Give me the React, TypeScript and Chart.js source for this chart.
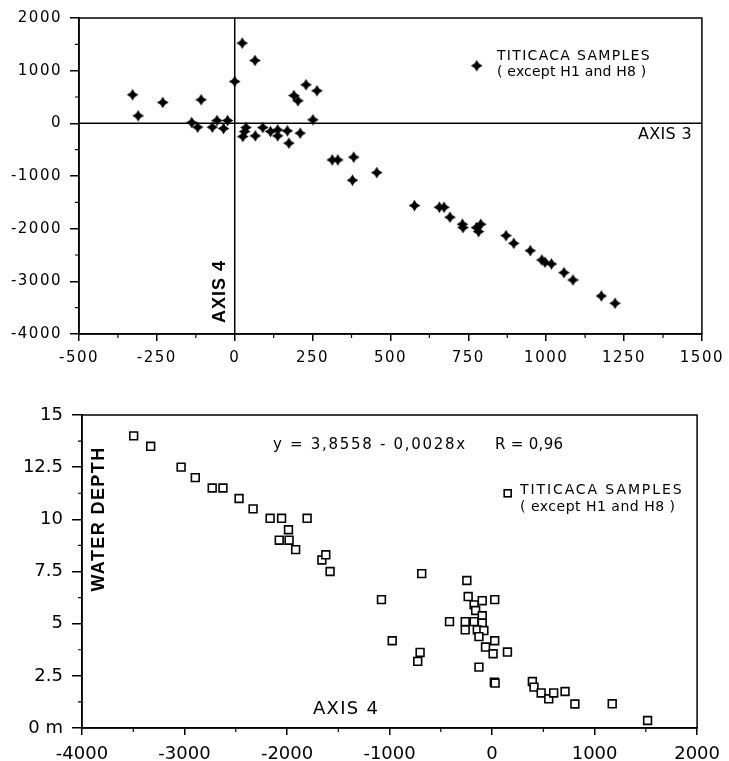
import React, { useEffect, useRef } from 'react';
import { Chart, registerables } from 'chart.js';
Chart.register(...registerables);

// ---------- Top chart: AXIS 3 (x) vs AXIS 4 (y) ----------
const axis3Scores = [-328, -310, -231, -138, -119, -108, -72, -57, -36, -23, 0, 24, 26, 32, 36, 65, 66, 90, 115, 138, 138, 169, 174, 190, 203, 210, 229, 251, 264, 313, 331, 382, 378, 456, 577, 657, 672, 691, 731, 733, 776, 783, 790, 871, 896, 949, 986, 996, 1017, 1057, 1086, 1177, 1221];
const axis4Scores = [542, 143, 396, 15, -72, 447, -72, 53, -99, 53, 795, 1524, -251, -156, -80, 1194, -238, -80, -156, -124, -238, -143, -376, 528, 428, -186, 732, 67, 618, -694, -694, -642, -1080, -935, -1562, -1593, -1593, -1783, -1916, -1980, -1980, -2056, -1916, -2132, -2278, -2417, -2594, -2638, -2670, -2835, -2974, -3278, -3417];
const topXTicks = [-500, -250, 0, 250, 500, 750, 1000, 1250, 1500];
const topXMinor = [-375, -125, 125, 375, 625, 875, 1125, 1375];
const topYTicks = [-4000, -3000, -2000, -1000, 0, 1000, 2000];
const topYMinor = [-3500, -2500, -1500, -500, 500, 1500];

// ---------- Bottom chart: AXIS 4 (x) vs WATER DEPTH (y) ----------
const depthAxis4 = [-3496, -3330, -3033, -2895, -2730, -2625, -2468, -2331, -2165, -2053, -1804, -1986, -2076, -1980, -1916, -1660, -1622, -1580, -686, -1079, -246, -233, -96, 26, -175, -160, -415, -262, -175, -96, -96, -262, -144, -80, -128, 26, -974, -64, 10, 150, -702, -725, -128, 22, 30, 393, 409, 479, 553, 601, 712, 808, 1172, 1517];
const waterDepth = [14, 13.5, 12.5, 12, 11.5, 11.5, 11, 10.5, 10.05, 10.05, 10.05, 9.5, 9, 9, 8.55, 8.05, 8.3, 7.5, 7.4, 6.15, 7.07, 6.3, 6.1, 6.15, 5.9, 5.63, 5.1, 5.1, 5.1, 5.38, 5.03, 4.7, 4.7, 4.67, 4.38, 4.18, 4.18, 3.88, 3.56, 3.64, 3.62, 3.19, 2.92, 2.2, 2.15, 2.23, 1.96, 1.68, 1.4, 1.68, 1.75, 1.15, 1.16, 0.36];
const botXTicks = [-4000, -3000, -2000, -1000, 0, 1000, 2000];
const botXMinor = [-3500, -2500, -1500, -500, 500, 1500];
const botYTicks = [0, 2.5, 5, 7.5, 10, 12.5, 15];
const botYMinor = [1.25, 3.75, 6.25, 8.75, 11.25, 13.75];

const legendLine1 = 'TITICACA SAMPLES';
const legendLine2 = '( except H1 and H8 )';
const equationText = 'y = 3,8558 - 0,0028x';
const rText = 'R = 0,96';

function makeStar(): HTMLCanvasElement {
  const c = document.createElement('canvas');
  c.width = 13;
  c.height = 13;
  const g = c.getContext('2d')!;
  g.fillStyle = '#000';
  g.beginPath();
  const cx = 6.5, cy = 6.5, R = 5.8, r = 3.1;
  for (let i = 0; i < 8; i++) {
    const a = -Math.PI / 2 + (i * Math.PI) / 4;
    const rad = i % 2 === 0 ? R : r;
    g.lineTo(cx + rad * Math.cos(a), cy + rad * Math.sin(a));
  }
  g.closePath();
  g.fill();
  return c;
}

function txt(ctx: any, s: string, x: number, y: number, font: string, ls: number, align: CanvasTextAlign = 'left') {
  ctx.font = font;
  ctx.letterSpacing = ls + 'px';
  ctx.textAlign = align;
  ctx.textBaseline = 'middle';
  ctx.fillStyle = '#000';
  ctx.fillText(s, x, y);
}

function makeFramePlugin(opts: any) {
  return {
    id: 'frameDeco',
    beforeDraw(chart: any) {
      chart.ctx.letterSpacing = opts.tickSpacing + 'px';
    },
    beforeDatasetsDraw(chart: any) {
      const { ctx, chartArea: a, scales } = chart;
      if (opts.zeroLines) {
        ctx.save();
        ctx.strokeStyle = '#000';
        ctx.lineWidth = 1.5;
        const x0 = scales.x.getPixelForValue(0);
        const y0 = scales.y.getPixelForValue(0);
        ctx.beginPath();
        ctx.moveTo(x0, a.top);
        ctx.lineTo(x0, a.bottom);
        ctx.moveTo(a.left, y0);
        ctx.lineTo(a.right, y0);
        ctx.stroke();
        ctx.restore();
      }
    },
    afterDraw(chart: any) {
      const { ctx, chartArea: a, scales } = chart;
      ctx.save();
      ctx.strokeStyle = '#000';
      ctx.lineWidth = 1.5;
      ctx.strokeRect(a.left, a.top, a.right - a.left, a.bottom - a.top);
      ctx.lineWidth = 1.2;
      ctx.beginPath();
      for (const v of opts.xMinor) {
        const px = scales.x.getPixelForValue(v);
        ctx.moveTo(px, a.bottom);
        ctx.lineTo(px, a.bottom + 4);
      }
      for (const v of opts.yMinor) {
        const py = scales.y.getPixelForValue(v);
        ctx.moveTo(a.left - 4, py);
        ctx.lineTo(a.left, py);
      }
      ctx.stroke();
      opts.deco(ctx, a, scales);
      ctx.restore();
    },
  };
}

function topConfig(): any {
  const star = makeStar();
  return {
    type: 'scatter',
    data: {
      datasets: [
        {
          data: axis3Scores.map((x, i) => ({ x, y: axis4Scores[i] })),
          pointStyle: star,
          pointRadius: 6,
          showLine: false,
        },
      ],
    },
    options: {
      responsive: false,
      animation: false,
      layout: { padding: { left: 0, right: 21, top: 18, bottom: 0 } },
      plugins: { legend: { display: false }, tooltip: { enabled: false } },
      scales: {
        x: {
          type: 'linear',
          min: -500,
          max: 1500,
          afterBuildTicks: (s: any) => { s.ticks = topXTicks.map((v) => ({ value: v })); },
          afterFit: (s: any) => { s.height = 36; },
          grid: { drawOnChartArea: false, tickLength: 7, color: '#000', lineWidth: 1.5 },
          border: { color: '#000', width: 1.5 },
          ticks: { color: '#000', font: { family: 'DejaVu Sans', size: 15 }, padding: 8, maxRotation: 0, autoSkip: false, callback: (v: any) => String(v) },
        },
        y: {
          type: 'linear',
          min: -4000,
          max: 2000,
          afterBuildTicks: (s: any) => { s.ticks = topYTicks.map((v) => ({ value: v })); },
          afterFit: (s: any) => { s.width = 79; },
          grid: { drawOnChartArea: false, tickLength: 9, color: '#000', lineWidth: 1.5 },
          border: { color: '#000', width: 1.5 },
          ticks: { color: '#000', font: { family: 'DejaVu Sans', size: 15 }, padding: 8, autoSkip: false, callback: (v: any) => String(v) },
        },
      },
    },
    plugins: [
      makeFramePlugin({
        tickSpacing: 1.5,
        zeroLines: true,
        xMinor: topXMinor,
        yMinor: topYMinor,
        deco: (ctx: any, a: any, scales: any) => {
          ctx.drawImage(star, 476.7 - 6.5, 65.7 - 6.5);
          txt(ctx, legendLine1, 497, 56, '14px "DejaVu Sans"', 1.3);
          txt(ctx, legendLine2, 497, 72, '14px "DejaVu Sans"', 0.2);
          const y0 = scales.y.getPixelForValue(0);
          txt(ctx, 'AXIS 3', a.right - 10, y0 + 12, '16px "DejaVu Sans"', 0.3, 'right');
          const x0 = scales.x.getPixelForValue(0);
          ctx.save();
          ctx.translate(x0 - 14.5, a.bottom - 11);
          ctx.rotate(-Math.PI / 2);
          txt(ctx, 'AXIS 4', 0, 0, 'bold 18px "Liberation Sans"', 1);
          ctx.restore();
        },
      }),
    ],
  };
}

function bottomConfig(): any {
  return {
    type: 'scatter',
    data: {
      datasets: [
        {
          data: depthAxis4.map((x, i) => ({ x, y: waterDepth[i] })),
          pointStyle: 'rect',
          pointRadius: 5.5,
          borderColor: '#000',
          backgroundColor: '#fff',
          borderWidth: 1.6,
          showLine: false,
        },
      ],
    },
    options: {
      responsive: false,
      animation: false,
      layout: { padding: { left: 0, right: 20, top: 35, bottom: 0 } },
      plugins: { legend: { display: false }, tooltip: { enabled: false } },
      scales: {
        x: {
          type: 'linear',
          min: -4000,
          max: 2000,
          afterBuildTicks: (s: any) => { s.ticks = botXTicks.map((v) => ({ value: v })); },
          afterFit: (s: any) => { s.height = 33; },
          grid: { drawOnChartArea: false, tickLength: 7, color: '#000', lineWidth: 1.5 },
          border: { color: '#000', width: 1.5 },
          ticks: { color: '#000', font: { family: 'DejaVu Sans', size: 18 }, padding: 9, maxRotation: 0, autoSkip: false, callback: (v: any) => String(v) },
        },
        y: {
          type: 'linear',
          min: 0,
          max: 15,
          afterBuildTicks: (s: any) => { s.ticks = botYTicks.map((v) => ({ value: v })); },
          afterFit: (s: any) => { s.width = 82; },
          grid: { drawOnChartArea: false, tickLength: 10, color: '#000', lineWidth: 1.5 },
          border: { color: '#000', width: 1.5 },
          ticks: { color: '#000', font: { family: 'DejaVu Sans', size: 18 }, padding: 9, autoSkip: false, callback: (v: any) => (v === 0 ? '0 m' : String(v)) },
        },
      },
    },
    plugins: [
      makeFramePlugin({
        tickSpacing: 0,
        zeroLines: false,
        xMinor: botXMinor,
        yMinor: botYMinor,
        deco: (ctx: any, a: any) => {
          txt(ctx, equationText, 273, 65, '15px "DejaVu Sans"', 1.7);
          txt(ctx, rText, 495, 65, '15px "DejaVu Sans"', 0.3);
          ctx.lineWidth = 1.6;
          ctx.strokeStyle = '#000';
          ctx.strokeRect(507.7 - 3.5, 113.3 - 3.5, 7, 7);
          txt(ctx, legendLine1, 520, 110, '14px "DejaVu Sans"', 1.9);
          txt(ctx, legendLine2, 520, 127, '14px "DejaVu Sans"', 0.5);
          ctx.save();
          ctx.translate(99.5, 139);
          ctx.rotate(-Math.PI / 2);
          txt(ctx, 'WATER DEPTH', 0, 0, 'bold 18px "Liberation Sans"', 1.4, 'center');
          ctx.restore();
          txt(ctx, 'AXIS 4', 313, 329, '18px "DejaVu Sans"', 1.3);
        },
      }),
    ],
  };
}

function ChartCanvas({ makeConfig, top, height }: { makeConfig: () => any; top: number; height: number }) {
  const ref = useRef<HTMLCanvasElement>(null);
  useEffect(() => {
    const chart = new Chart(ref.current!, makeConfig());
    return () => chart.destroy();
  }, []);
  return (
    <canvas
      ref={ref}
      width={729}
      height={height}
      style={{ position: 'absolute', left: 0, top, width: 729, height }}
    />
  );
}

export default function App() {
  return (
    <div style={{ position: 'absolute', left: 0, top: 0, width: 729, height: 761, background: '#fff', overflow: 'hidden' }}>
      <ChartCanvas makeConfig={topConfig} top={0} height={370} />
      <ChartCanvas makeConfig={bottomConfig} top={380} height={381} />
    </div>
  );
}
